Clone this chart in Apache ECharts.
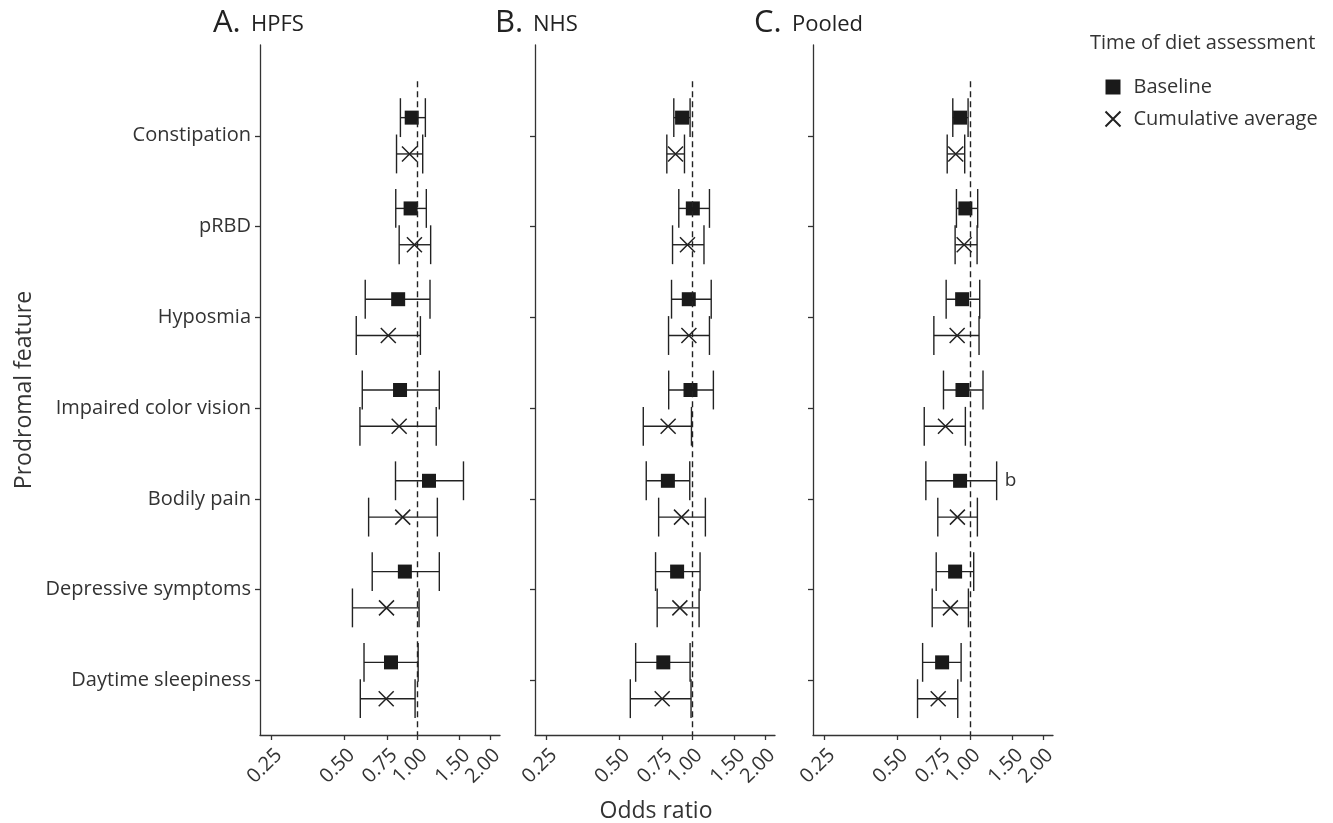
<!DOCTYPE html>
<html>
<head>
<meta charset="utf-8">
<script src="https://cdn.jsdelivr.net/npm/echarts@6/dist/echarts.min.js"></script>
<style>
  html, body { margin: 0; padding: 0; background: #fff; }
  #chart { width: 1333px; height: 823px; }
</style>
</head>
<body>
<div id="chart"></div>
<script>
// categories, top to bottom
const features = ['Constipation', 'pRBD', 'Hyposmia', 'Impaired color vision', 'Bodily pain', 'Depressive symptoms', 'Daytime sleepiness']
const tickLabels = [0.25, 0.5, 0.75, 1, 1.5, 2]

// A. HPFS
const hpfsBase = [0.95, 0.94, 0.835, 0.85, 1.12, 0.89, 0.78]
const hpfsBaseLow = [0.853, 0.816, 0.61, 0.593, 0.814, 0.652, 0.603]
const hpfsBaseHigh = [1.082, 1.092, 1.131, 1.236, 1.556, 1.236, 1.01]
const hpfsCum = [0.93, 0.975, 0.76, 0.843, 0.872, 0.747, 0.745]
const hpfsCumLow = [0.822, 0.843, 0.56, 0.58, 0.63, 0.54, 0.582]
const hpfsCumHigh = [1.055, 1.138, 1.032, 1.2, 1.213, 1.019, 0.981]

// B. NHS
const nhsBase = [0.909, 1.007, 0.969, 0.985, 0.794, 0.867, 0.76]
const nhsBaseLow = [0.84, 0.881, 0.822, 0.8, 0.646, 0.706, 0.584]
const nhsBaseHigh = [0.981, 1.18, 1.2, 1.225, 0.978, 1.079, 0.981]
const nhsCum = [0.854, 0.957, 0.97, 0.796, 0.904, 0.89, 0.752]
const nhsCumLow = [0.786, 0.83, 0.799, 0.628, 0.727, 0.717, 0.555]
const nhsCumHigh = [0.93, 1.12, 1.18, 0.994, 1.135, 1.069, 0.99]

// C. Pooled
const pooledBase = [0.909, 0.956, 0.927, 0.93, 0.909, 0.867, 0.766]
const pooledBaseLow = [0.848, 0.878, 0.796, 0.776, 0.656, 0.724, 0.636]
const pooledBaseHigh = [0.981, 1.075, 1.096, 1.131, 1.288, 1.035, 0.918]
const pooledCum = [0.872, 0.945, 0.884, 0.791, 0.886, 0.829, 0.738]
const pooledCumLow = [0.804, 0.867, 0.708, 0.646, 0.735, 0.697, 0.606]
const pooledCumHigh = [0.95, 1.069, 1.089, 0.956, 1.072, 0.984, 0.889]
const pooledBaseNotes = ['', '', '', '', 'b', '', '']

const FONT = 'Open Sans'
const INK = '#222'
const TEXT = '#333'

const panels = [
  { tag: 'A.', name: 'HPFS', left: 260, titleX: 213,
    base: [hpfsBase, hpfsBaseLow, hpfsBaseHigh], cum: [hpfsCum, hpfsCumLow, hpfsCumHigh], notes: null },
  { tag: 'B.', name: 'NHS', left: 535, titleX: 495,
    base: [nhsBase, nhsBaseLow, nhsBaseHigh], cum: [nhsCum, nhsCumLow, nhsCumHigh], notes: null },
  { tag: 'C.', name: 'Pooled', left: 813, titleX: 754,
    base: [pooledBase, pooledBaseLow, pooledBaseHigh], cum: [pooledCum, pooledCumLow, pooledCumHigh], notes: pooledBaseNotes }
]

const chart = echarts.init(document.getElementById('chart'))

const grids = [], xAxes = [], yAxes = [], series = []

function makeBars(notes) {
  return function (params, api) {
    const lo = api.coord([api.value(0), api.value(2)])
    const hi = api.coord([api.value(1), api.value(2)])
    const h = api.size([0, 0.214])[1]
    const style = { stroke: INK, lineWidth: 1.4 }
    const kids = [
      { type: 'line', shape: { x1: lo[0], y1: lo[1], x2: hi[0], y2: hi[1] }, style },
      { type: 'line', shape: { x1: lo[0], y1: lo[1] - h, x2: lo[0], y2: lo[1] + h }, style },
      { type: 'line', shape: { x1: hi[0], y1: hi[1] - h, x2: hi[0], y2: hi[1] + h }, style }
    ]
    if (notes && notes[params.dataIndex]) {
      kids.push({ type: 'text', x: hi[0] + 8, y: hi[1],
        style: { text: notes[params.dataIndex], fill: TEXT, font: '19px ' + FONT, verticalAlign: 'middle' } })
    }
    return { type: 'group', children: kids }
  }
}

panels.forEach((p, k) => {
  grids.push({ left: p.left, width: 240, top: 45, height: 690 })
  xAxes.push({
    type: 'value', gridIndex: k, min: -2.16, max: 1.14,
    splitLine: { show: false },
    axisLine: { onZero: false, lineStyle: { color: TEXT, width: 1.3 } },
    axisTick: { show: true, customValues: tickLabels.map(Math.log2), length: 5, lineStyle: { color: TEXT, width: 1.3 } },
    axisLabel: {
      customValues: tickLabels.map(Math.log2), rotate: 45, margin: 10,
      verticalAlign: 'top',
      color: TEXT, fontFamily: FONT, fontSize: 20,
      formatter: v => Math.pow(2, v).toFixed(2)
    }
  })
  yAxes.push({
    type: 'value', gridIndex: k, inverse: true, min: 0, max: 7.6,
    splitLine: { show: false },
    axisLine: { show: true, onZero: false, lineStyle: { color: TEXT, width: 1.3 } },
    axisTick: { show: true, customValues: features.map((f, i) => i + 1), length: 5, lineStyle: { color: TEXT, width: 1.3 } },
    axisLabel: {
      show: k === 0, customValues: features.map((f, i) => i + 1), margin: 9,
      color: TEXT, fontFamily: FONT, fontSize: 20,
      formatter: v => features[Math.round(v) - 1]
    }
  })

  const baseY = features.map((f, i) => i + 1 - 0.2)
  const cumY = features.map((f, i) => i + 1 + 0.2)

  series.push({
    type: 'custom', xAxisIndex: k, yAxisIndex: k, silent: true, z: 2,
    renderItem: makeBars(p.notes),
    encode: { x: [0, 1], y: 2 },
    data: features.map((f, i) => [Math.log2(p.base[1][i]), Math.log2(p.base[2][i]), baseY[i]]),
    markLine: {
      silent: true, symbol: 'none', label: { show: false },
      lineStyle: { color: INK, type: [6, 4], width: 1.4 },
      data: [[{ coord: [0, 0.4] }, { coord: [0, 7.6] }]]
    }
  })
  series.push({
    type: 'custom', xAxisIndex: k, yAxisIndex: k, silent: true, z: 2,
    renderItem: makeBars(null),
    encode: { x: [0, 1], y: 2 },
    data: features.map((f, i) => [Math.log2(p.cum[1][i]), Math.log2(p.cum[2][i]), cumY[i]])
  })
  series.push({
    name: 'Baseline', type: 'scatter', xAxisIndex: k, yAxisIndex: k, z: 3,
    symbol: 'rect', symbolSize: 14,
    itemStyle: { color: '#1a1a1a', opacity: 1 },
    data: features.map((f, i) => [Math.log2(p.base[0][i]), baseY[i]])
  })
  series.push({
    name: 'Cumulative average', type: 'scatter', xAxisIndex: k, yAxisIndex: k, z: 3,
    symbol: 'path://M0,0L10,10M10,0L0,10', symbolSize: 15,
    itemStyle: { color: 'none', borderColor: INK, borderWidth: 1.5, opacity: 1 },
    data: features.map((f, i) => [Math.log2(p.cum[0][i]), cumY[i]])
  })
})

const graphic = []
panels.forEach(p => {
  graphic.push({ type: 'text', left: p.titleX, top: 8, style: { text: p.tag, fill: '#222', font: '31px ' + FONT } })
  graphic.push({ type: 'text', left: p.titleX + 38, top: 14, style: { text: p.name, fill: '#222', font: '22px ' + FONT } })
})
graphic.push({ type: 'text', left: 1090, top: 33, style: { text: 'Time of diet assessment', fill: TEXT, font: '20px ' + FONT } })
graphic.push({ type: 'text', x: 656, y: 811, style: { text: 'Odds ratio', fill: TEXT, font: '23px ' + FONT, align: 'center', verticalAlign: 'middle' } })
graphic.push({ type: 'text', x: 24, y: 390, rotation: Math.PI / 2,
  style: { text: 'Prodromal feature', fill: TEXT, font: '23px ' + FONT, align: 'center', verticalAlign: 'middle' } })

chart.setOption({
  animation: false,
  backgroundColor: '#fff',
  textStyle: { fontFamily: FONT },
  grid: grids,
  xAxis: xAxes,
  yAxis: yAxes,
  series: series,
  legend: {
    orient: 'vertical', left: 1098, top: 72, itemGap: 12,
    itemWidth: 15, itemHeight: 15,
    selectedMode: false,
    textStyle: { color: TEXT, fontFamily: FONT, fontSize: 20, padding: [0, 0, 0, 8] },
    data: ['Baseline', 'Cumulative average']
  },
  graphic: graphic
})
</script>
</body>
</html>
